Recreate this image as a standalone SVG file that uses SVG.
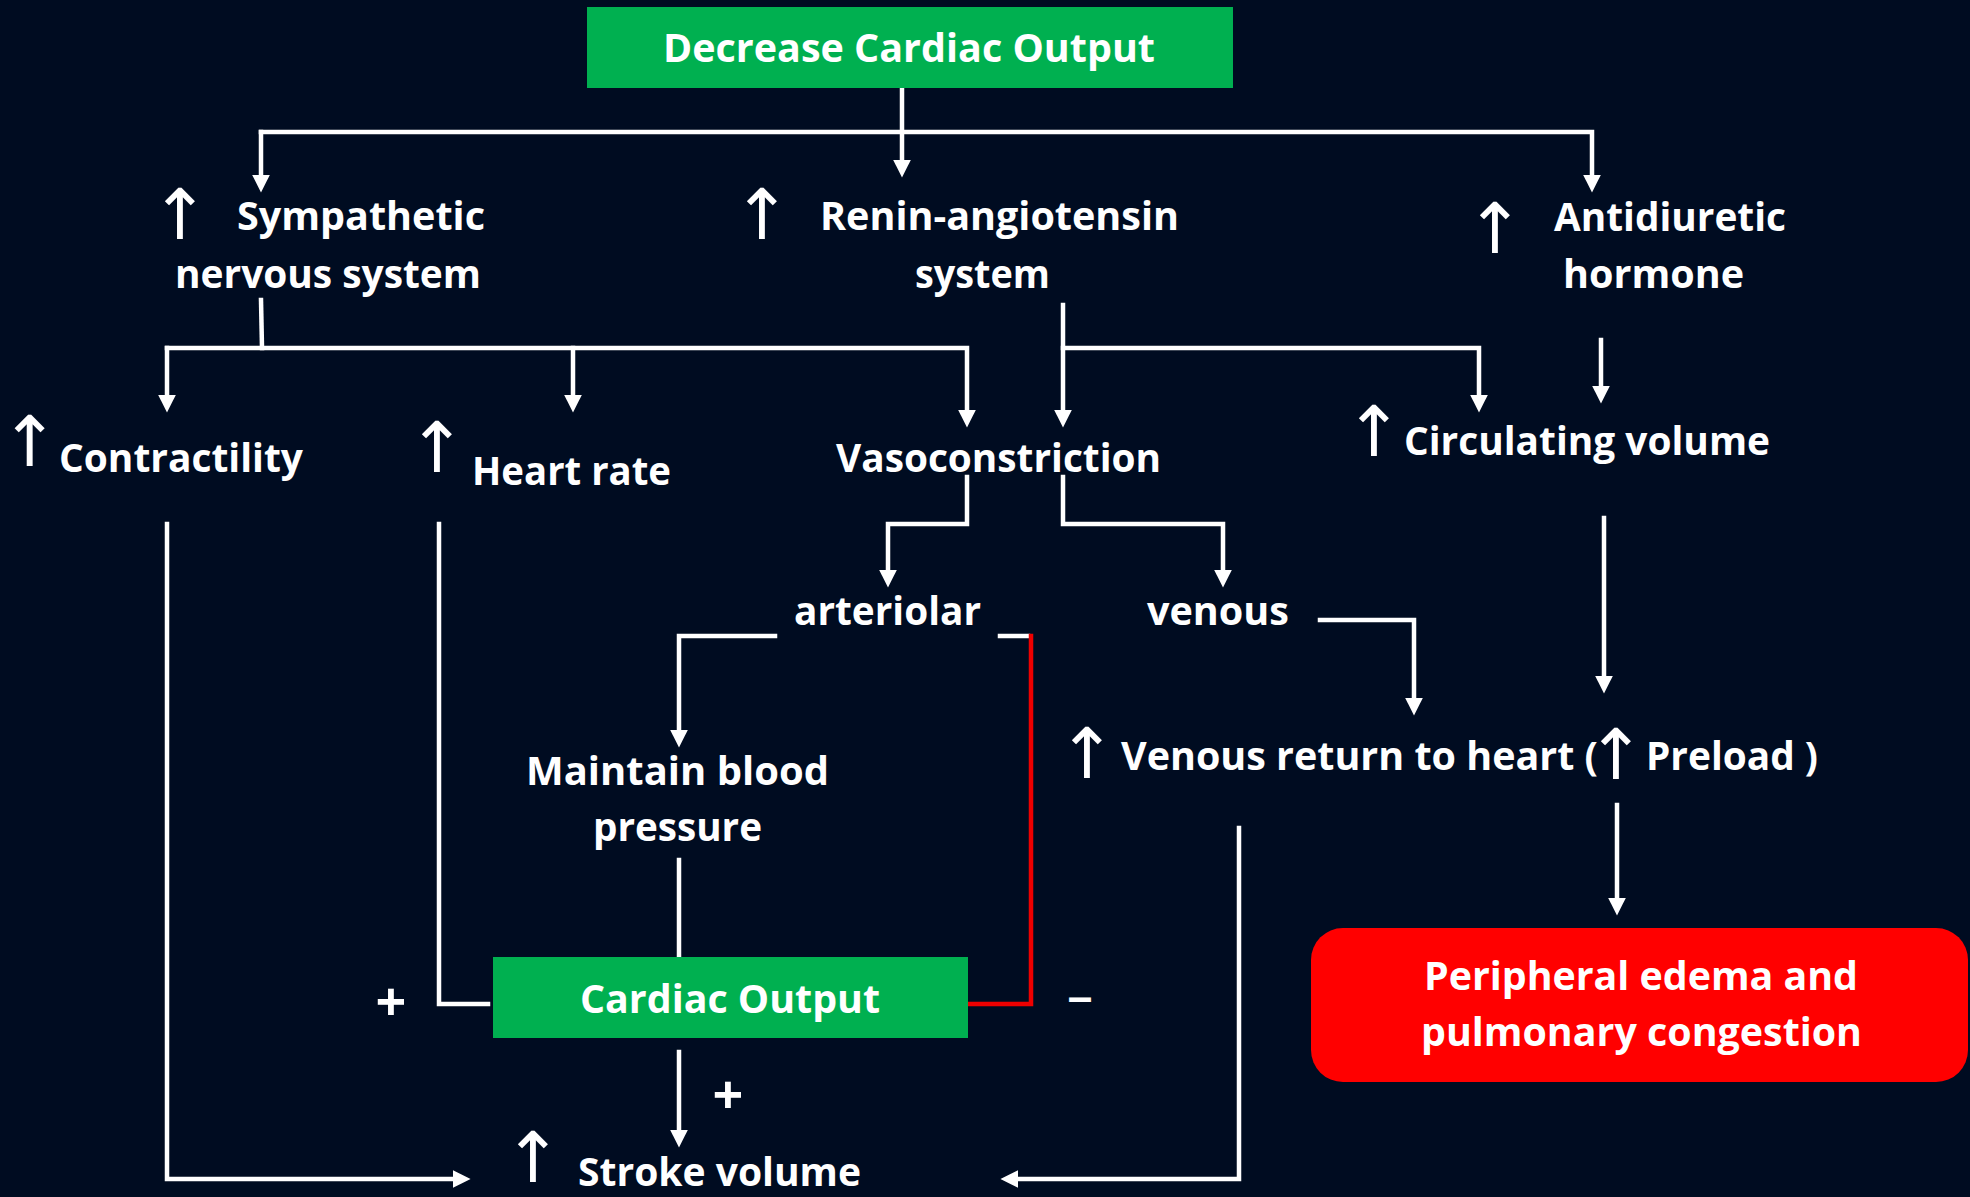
<svg xmlns="http://www.w3.org/2000/svg" width="1970" height="1197" viewBox="0 0 1970 1197">
<defs>
<style>
.t{font-family:"Open Sans","Noto Sans","DejaVu Sans",sans-serif;font-weight:700;font-size:40px;fill:#ffffff}
.ar{font-family:"DejaVu Sans",sans-serif;font-weight:400;font-size:70px;fill:#ffffff;text-anchor:middle}
.arr{font-family:"DejaVu Sans",sans-serif;font-weight:400;font-size:70px}
.pl{font-family:"Open Sans","Noto Sans","DejaVu Sans",sans-serif;font-weight:700;font-size:54px;fill:#ffffff;text-anchor:middle}
.c{fill:none;stroke:#ffffff;stroke-width:4.5;stroke-linecap:square;stroke-linejoin:miter}
.a{marker-end:url(#ah)}
.red{fill:none;stroke:#ee0000;stroke-width:4.5;stroke-linecap:square}
</style>
<marker id="ah" markerUnits="userSpaceOnUse" markerWidth="18" markerHeight="18" refX="7" refY="8.5" orient="auto" viewBox="0 0 17 17">
<path d="M0,0 L17,8.5 L0,17 Z" fill="#ffffff"/>
</marker>
</defs>
<rect x="0" y="0" width="1970" height="1197" fill="#000c21"/>

<g id="connectors">
<path class="c a" d="M902,88 V167"/>
<path class="c a" d="M261,132 V182"/>
<path class="c a" d="M261,132 H1592 V182"/>
<path class="c" d="M261,300 L262,348"/>
<path class="c a" d="M167,348 V402"/>
<path class="c a" d="M167,348 H967 V417"/>
<path class="c a" d="M573,348 V402"/>
<path class="c a" d="M1063,305 V417"/>
<path class="c a" d="M1063,348 H1479 V402"/>
<path class="c a" d="M1601,340 V393"/>
<path class="c a" d="M967,477 V524 H888 V577"/>
<path class="c a" d="M1063,477 V524 H1223 V577"/>
<path class="c a" d="M167,524 V1179 H460"/>
<path class="c" d="M439,524 V1004 H488"/>
<path class="c a" d="M775,636 H679 V737"/>
<path class="c" d="M679,860 V955"/>
<path class="c a" d="M679,1052 V1137"/>
<path class="c" d="M1000,636 H1028"/>
<path class="red" d="M969,1004 H1031 V636"/>
<path class="c a" d="M1320,620 H1414 V705"/>
<path class="c a" d="M1604,518 V683"/>
<path class="c a" d="M1617,805 V905"/>
<path class="c a" d="M1239,828 V1179 H1011"/>
</g>

<g id="decrease-co">
<rect x="587" y="7" width="646" height="81" fill="#00b050"/>
<text class="t" x="663" y="62" textLength="492" lengthAdjust="spacingAndGlyphs">Decrease Cardiac Output</text>
</g>

<g id="sympathetic">
<text class="ar" x="180" y="239">↑</text>
<text class="t" x="237" y="230" textLength="248" lengthAdjust="spacingAndGlyphs">Sympathetic</text>
<text class="t" x="175" y="288" textLength="306" lengthAdjust="spacingAndGlyphs">nervous system</text>
</g>

<g id="renin">
<text class="ar" x="762" y="239">↑</text>
<text class="t" x="820" y="230" textLength="359" lengthAdjust="spacingAndGlyphs">Renin-angiotensin</text>
<text class="t" x="915" y="288" textLength="135" lengthAdjust="spacingAndGlyphs">system</text>
</g>

<g id="adh">
<text class="ar" x="1495" y="253">↑</text>
<text class="t" x="1554" y="231" textLength="232" lengthAdjust="spacingAndGlyphs">Antidiuretic</text>
<text class="t" x="1563" y="288" textLength="181" lengthAdjust="spacingAndGlyphs">hormone</text>
</g>

<g id="contractility">
<text class="t" y="472"><tspan class="arr" x="0.5" y="466">↑</tspan><tspan x="59" y="472" textLength="244" lengthAdjust="spacingAndGlyphs">Contractility</tspan></text>
</g>

<g id="heart-rate">
<text class="ar" x="437" y="472">↑</text>
<text class="t" x="472" y="485" textLength="199" lengthAdjust="spacingAndGlyphs">Heart rate</text>
</g>

<g id="vasoconstriction">
<text class="t" x="836" y="472" textLength="325" lengthAdjust="spacingAndGlyphs">Vasoconstriction</text>
</g>

<g id="circulating-volume">
<text class="ar" x="1374" y="456">↑</text>
<text class="t" x="1404" y="455" textLength="366" lengthAdjust="spacingAndGlyphs">Circulating volume</text>
</g>

<g id="arteriolar">
<text class="t" x="794" y="625" textLength="187" lengthAdjust="spacingAndGlyphs">arteriolar</text>
</g>

<g id="venous">
<text class="t" x="1147" y="625" textLength="142" lengthAdjust="spacingAndGlyphs">venous</text>
</g>

<g id="maintain-bp">
<text class="t" x="526" y="785" textLength="303" lengthAdjust="spacingAndGlyphs">Maintain blood</text>
<text class="t" x="593" y="841" textLength="169" lengthAdjust="spacingAndGlyphs">pressure</text>
</g>

<g id="venous-return">
<text class="ar" x="1087" y="778">↑</text>
<text class="t" y="770"><tspan x="1121" y="770" textLength="477" lengthAdjust="spacingAndGlyphs">Venous return to heart (</tspan><tspan class="arr" x="1586.7" y="779">↑</tspan><tspan x="1646" y="770" textLength="172" lengthAdjust="spacingAndGlyphs">Preload )</tspan></text>
</g>

<g id="cardiac-output">
<rect x="493" y="957" width="475" height="81" fill="#00b050"/>
<text class="t" x="580" y="1013" textLength="300" lengthAdjust="spacingAndGlyphs">Cardiac Output</text>
</g>

<g id="edema">
<rect x="1311" y="928" width="657" height="154" rx="32" ry="32" fill="#ff0000"/>
<text class="t" x="1424" y="990" textLength="434" lengthAdjust="spacingAndGlyphs">Peripheral edema and</text>
<text class="t" x="1421" y="1046" textLength="441" lengthAdjust="spacingAndGlyphs">pulmonary congestion</text>
</g>

<g id="stroke-volume">
<text class="ar" x="533" y="1182" font-size="60">↑</text>
<text class="t" x="578" y="1186" textLength="283" lengthAdjust="spacingAndGlyphs">Stroke volume</text>
</g>

<g id="signs">
<text class="pl" x="391" y="1021">+</text>
<text class="pl" x="728" y="1114">+</text>
<text class="t" x="1067" y="1010" textLength="26" lengthAdjust="spacingAndGlyphs" font-weight="400">–</text>
</g>
</svg>
